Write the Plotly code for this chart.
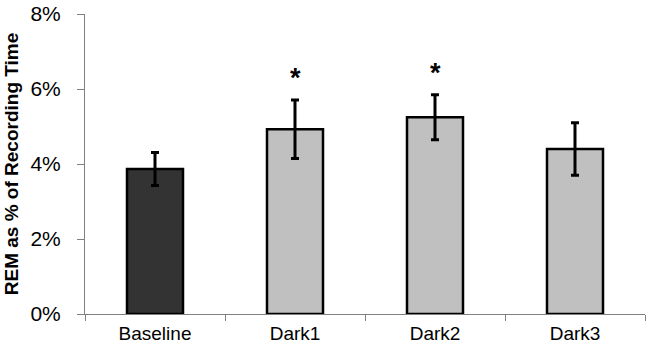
import plotly.graph_objects as go

categories = ["Baseline", "Dark1", "Dark2", "Dark3"]
rem_pct = [0.0387, 0.0493, 0.0525, 0.0440]
sem_pct = [0.0044, 0.0078, 0.0060, 0.0070]
bar_colors = ["#333333", "#c0c0c0", "#c0c0c0", "#c0c0c0"]
significant = [False, True, True, False]

fig = go.Figure()
fig.add_trace(go.Bar(
    x=categories, y=rem_pct,
    width=0.4,
    marker=dict(color=bar_colors, line=dict(color="black", width=2.5)),
    error_y=dict(type="data", array=sem_pct, visible=True, color="black", thickness=3, width=4),
    showlegend=False,
))

for c, v, e, s in zip(categories, rem_pct, sem_pct, significant):
    if s:
        fig.add_annotation(x=c, y=v + e, text="<b>*</b>", showarrow=False, yanchor="bottom",
                           yshift=5, font=dict(family="Liberation Sans, Arial", size=27, color="black"))

fig.update_layout(
    width=650, height=354,
    margin=dict(l=85, r=5, t=14, b=40),
    plot_bgcolor="white", paper_bgcolor="white",
    xaxis=dict(
        type="category", range=[-0.5, 3.5], tickson="boundaries", automargin=False,
        ticks="outside", ticklen=6, tickcolor="#808080", tickwidth=1,
        showline=True, linecolor="#808080", linewidth=1,
        showgrid=False, tickfont=dict(family="Liberation Sans, Arial", size=19, color="black"),
        ticklabelstandoff=2,
    ),
    yaxis=dict(
        range=[0, 0.08], dtick=0.02, tickformat=".0%", automargin=False,
        ticks="outside", ticklen=7, tickcolor="#808080", tickwidth=1,
        showline=True, linecolor="#808080", linewidth=1,
        showgrid=False, zeroline=False, tickfont=dict(family="Liberation Sans, Arial", size=21, color="black"),
        ticklabelstandoff=12,
        title=dict(text="<b>REM as % of Recording Time</b>",
                   font=dict(family="Liberation Sans, Arial", size=19, color="black"), standoff=6),
    ),
)

fig.write_html("out.html", config={"displayModeBar": False},
               post_script="document.body.style.margin='0';")
